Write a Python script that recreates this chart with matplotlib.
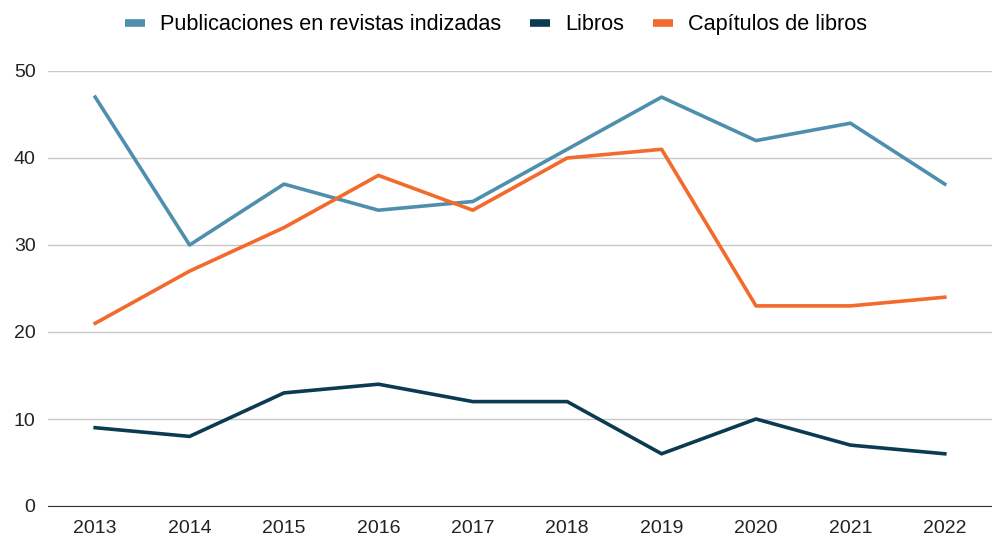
import matplotlib.pyplot as plt

years = ["2013", "2014", "2015", "2016", "2017", "2018", "2019", "2020", "2021", "2022"]
publicaciones = [47, 30, 37, 34, 35, 41, 47, 42, 44, 37]
libros = [9, 8, 13, 14, 12, 12, 6, 10, 7, 6]
capitulos = [21, 27, 32, 38, 34, 40, 41, 23, 23, 24]

plt.rcParams['font.family'] = ['Liberation Sans', 'DejaVu Sans']

fig = plt.figure(figsize=(9.92, 5.4), dpi=100)
ax = fig.add_axes([48 / 992, 34 / 540, 944 / 992, 435 / 540])

x = range(len(years))
ax.plot(x, publicaciones, color="#4f8fae", lw=2.6, label="Publicaciones en revistas indizadas")
ax.plot(x, libros, color="#0a3b52", lw=2.6, label="Libros")
ax.plot(x, capitulos, color="#f26a2c", lw=2.6, label="Capítulos de libros")

ax.set_xlim(-0.5, len(years) - 0.5)
ax.set_ylim(0, 50)
ax.set_yticks([0, 10, 20, 30, 40, 50])
ax.set_xticks(list(x))
ax.set_xticklabels(years)
ax.grid(axis="y", color="#c8c8c8", lw=1)
ax.set_axisbelow(True)
for s in ["top", "right", "left"]:
    ax.spines[s].set_visible(False)
ax.spines["bottom"].set_color("#333333")
ax.tick_params(length=0, labelsize=14, colors="#222222", pad=10)
ax.tick_params(axis="y", pad=9)

leg = ax.legend(loc="center", bbox_to_anchor=(0.5, (540 - 25) / 540), bbox_transform=fig.transFigure,
                ncol=3, frameon=False, fontsize=15.6, handlelength=0.95, columnspacing=1.3, handletextpad=0.7)
for h in leg.get_lines():
    h.set_linewidth(5.5)
    h.set_solid_capstyle("butt")

fig.savefig("out.png", dpi=100)
